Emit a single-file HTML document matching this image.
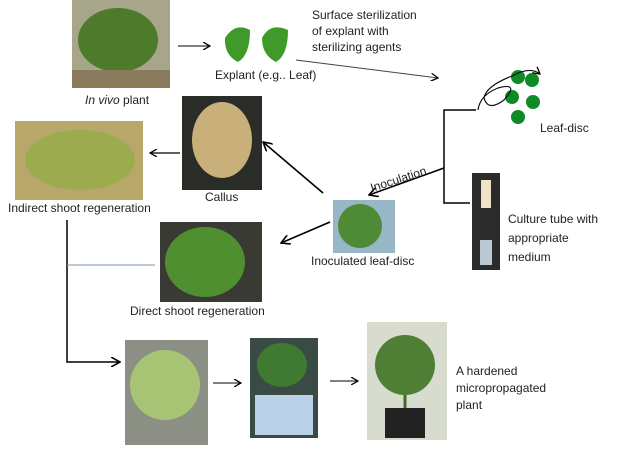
<!DOCTYPE html>
<html><head><style>
body{margin:0;width:624px;height:453px;background:#fff;position:relative;overflow:hidden;font-family:"Liberation Sans",sans-serif;font-size:12px;color:#222}
.p{position:absolute}
.t{position:absolute;white-space:nowrap;line-height:16px}
</style></head><body>
<svg class="p" style="left:0;top:0" width="624" height="453">
<defs><marker id="a" markerWidth="8" markerHeight="8" refX="7" refY="4" orient="auto" markerUnits="userSpaceOnUse"><path d="M0,0 L7,4 L0,8" fill="none" stroke="#000" stroke-width="1.3"/></marker>
<marker id="b" markerWidth="10" markerHeight="10" refX="9" refY="5" orient="auto" markerUnits="userSpaceOnUse"><path d="M0,0 L9,5 L0,10" fill="none" stroke="#000" stroke-width="1.6"/></marker></defs>
<!-- photos -->
<rect x="72" y="0" width="98" height="88" fill="#a7a58a"/><ellipse cx="118" cy="40" rx="40" ry="32" fill="#4e7a2c"/><rect x="72" y="70" width="98" height="18" fill="#8b7b5d"/>
<path d="M225,38 Q235,22 250,30 Q250,55 238,62 Q224,55 225,38Z" fill="#3f9a2a"/><path d="M262,38 Q270,22 288,30 Q288,55 276,62 Q262,55 262,38Z" fill="#3f9a2a"/>
<rect x="182" y="96" width="80" height="94" fill="#2a2c27"/><ellipse cx="222" cy="140" rx="30" ry="38" fill="#c9b07a"/>
<rect x="15" y="121" width="128" height="79" fill="#b7a86a"/><ellipse cx="80" cy="160" rx="55" ry="30" fill="#9cab4d"/>
<rect x="160" y="222" width="102" height="80" fill="#3a3a35"/><ellipse cx="205" cy="262" rx="40" ry="35" fill="#4f8f2f"/>
<rect x="333" y="200" width="62" height="53" fill="#97b7c6"/><circle cx="360" cy="226" r="22" fill="#4f8a36"/>
<rect x="472" y="173" width="28" height="97" fill="#2b2b2b"/><rect x="481" y="180" width="10" height="28" fill="#eee3c9"/><rect x="480" y="240" width="12" height="25" fill="#b9c8d2"/>
<rect x="125" y="340" width="83" height="105" fill="#8c8f84"/><ellipse cx="165" cy="385" rx="35" ry="35" fill="#a7c474"/>
<rect x="250" y="338" width="68" height="100" fill="#3a4a45"/><ellipse cx="282" cy="365" rx="25" ry="22" fill="#3f7a33"/><rect x="255" y="395" width="58" height="40" fill="#b9d0e6"/>
<rect x="367" y="322" width="80" height="118" fill="#d8dccf"/><path d="M405,335 L405,420" stroke="#3f6a2a" stroke-width="3"/><ellipse cx="405" cy="365" rx="30" ry="30" fill="#4f7f34"/><rect x="385" y="408" width="40" height="30" fill="#222"/>
<!-- leaf discs -->
<g fill="#0f8a25"><circle cx="518" cy="77" r="7"/><circle cx="532" cy="80" r="7"/><circle cx="512" cy="97" r="7"/><circle cx="533" cy="102" r="7"/><circle cx="518" cy="117" r="7"/></g>
<path d="M478,110 Q480,95 498,88 Q520,82 504,100 Q488,112 484,98 Q486,86 512,76 Q530,66 540,74" fill="none" stroke="#111" stroke-width="1.2" marker-end="url(#a)"/>
<!-- connectors -->
<line x1="178" y1="46" x2="210" y2="46" stroke="#000" stroke-width="1" marker-end="url(#a)"/>
<line x1="296" y1="60" x2="438" y2="78" stroke="#444" stroke-width="1" marker-end="url(#a)"/>
<path d="M476,110 L444,110 L444,203 L470,203" fill="none" stroke="#000" stroke-width="1.5"/>
<line x1="444" y1="168" x2="369" y2="195" stroke="#000" stroke-width="1.6" marker-end="url(#b)"/>
<line x1="323" y1="193" x2="263" y2="142" stroke="#000" stroke-width="1.6" marker-end="url(#b)"/>
<line x1="330" y1="222" x2="281" y2="243" stroke="#000" stroke-width="1.6" marker-end="url(#b)"/>
<line x1="180" y1="153" x2="150" y2="153" stroke="#000" stroke-width="1.3" marker-end="url(#a)"/>
<path d="M67,220 L67,362 L120,362" fill="none" stroke="#000" stroke-width="1.5" marker-end="url(#b)"/>
<line x1="67" y1="265" x2="155" y2="265" stroke="#7a95b0" stroke-width="1"/>
<line x1="213" y1="383" x2="241" y2="383" stroke="#000" stroke-width="1" marker-end="url(#a)"/>
<line x1="330" y1="381" x2="358" y2="381" stroke="#000" stroke-width="1" marker-end="url(#a)"/>
<text x="372" y="192" font-family="Liberation Sans" font-size="12" fill="#222" transform="rotate(-18 372 192)">Inoculation</text>
</svg>
<div class="t" style="left:85px;top:92px"><i>In vivo</i> plant</div>
<div class="t" style="left:215px;top:67px">Explant (e.g.. Leaf)</div>
<div class="t" style="left:312px;top:7px">Surface sterilization<br>of explant with<br>sterilizing agents</div>
<div class="t" style="left:540px;top:120px">Leaf-disc</div>
<div class="t" style="left:508px;top:210px;line-height:19px">Culture tube with<br>appropriate<br>medium</div>
<div class="t" style="left:311px;top:253px">Inoculated leaf-disc</div>
<div class="t" style="left:205px;top:189px">Callus</div>
<div class="t" style="left:8px;top:200px">Indirect shoot regeneration</div>
<div class="t" style="left:130px;top:303px">Direct shoot regeneration</div>
<div class="t" style="left:456px;top:363px;line-height:17px">A hardened<br>micropropagated<br>plant</div>
</body></html>
